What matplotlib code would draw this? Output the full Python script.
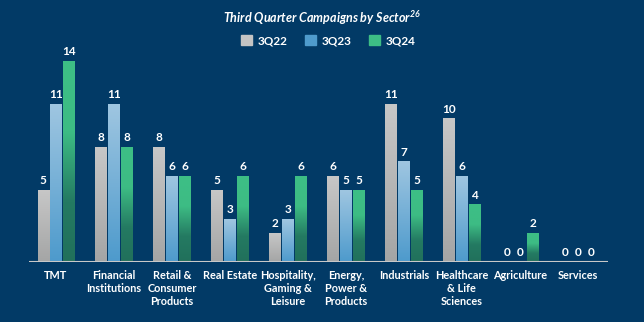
import numpy as np
import matplotlib
matplotlib.use("Agg")
import matplotlib.pyplot as plt
from matplotlib.colors import LinearSegmentedColormap
from matplotlib.patches import Rectangle

sectors = ["TMT", "Financial\nInstitutions", "Retail &\nConsumer\nProducts", "Real Estate",
           "Hospitality,\nGaming &\nLeisure", "Energy,\nPower &\nProducts", "Industrials",
           "Healthcare\n& Life\nSciences", "Agriculture", "Services"]
q22 = [5, 8, 8, 5, 2, 6, 11, 10, 0, 0]
q23 = [11, 11, 6, 3, 3, 5, 7, 6, 0, 0]
q24 = [14, 8, 6, 6, 6, 5, 5, 4, 2, 0]
series_names = ["3Q22", "3Q23", "3Q24"]

bg = "#023a66"
# (bottom, top) gradient stops per series
grads = [
    [(0.0, "#a4a5a5"), (1.0, "#c7c7c7")],
    [(0.0, "#4d9acc"), (1.0, "#9fc6e1")],
    [(0.0, "#21705b"), (0.3, "#247a62"), (0.65, "#3dbc84"), (1.0, "#3dbf86")],
]
legend_cols = ["#c4c4c4", "#4f9bcc", "#3dbd85"]

plt.rcParams['font.family'] = ['Lato', 'DejaVu Sans']
fig = plt.figure(figsize=(6.44, 3.22), dpi=100)
fig.patch.set_facecolor(bg)
ax = fig.add_axes([0.045, 0.186, 0.899, 0.658])
ax.set_facecolor(bg)

x = np.arange(len(sectors))
w = 0.19
step = 0.224
for i, vals in enumerate([q22, q23, q24]):
    cmap = LinearSegmentedColormap.from_list("g%d" % i, grads[i])
    grad = np.linspace(0, 1, 256).reshape(-1, 1)
    for xi, v in zip(x, vals):
        x0 = xi + (i - 1) * step - w / 2
        if v > 0:
            ax.imshow(grad, cmap=cmap, origin="lower", aspect="auto",
                      extent=[x0, x0 + w, 0, v], interpolation="bilinear", zorder=2)
        ax.text(x0 + w / 2, v + 0.3, str(v), ha="center", va="bottom",
                color="white", fontsize=8.5, fontweight="bold", zorder=3)

ax.set_xlim(-0.466, 9.52)
ax.set_ylim(0, 14.8)
ax.axhline(0, color="#c8c8c8", lw=1.5, zorder=4)
for s in ax.spines.values():
    s.set_visible(False)
ax.set_yticks([])
ax.set_xticks(x)
ax.set_xticklabels(sectors, color="white", fontsize=7.8, linespacing=1.2, va="top",
                   fontweight="bold")
ax.tick_params(axis="x", length=0, pad=6)

fig.text(0.5, 0.945, r"Third Quarter Campaigns by Sector$^{\mathregular{26}}$", ha="center", va="center",
         color="white", fontsize=9, fontweight="bold", style="italic")

handles = [Rectangle((0, 0), 1, 1, color=c) for c in legend_cols]
fig.legend(handles, series_names, loc="center", bbox_to_anchor=(0.51, 0.873), ncol=3,
           frameon=False, labelcolor="white", handlelength=0.9, handleheight=0.9,
           handletextpad=0.5, columnspacing=1.5, prop={"weight": "bold", "size": 8.5})

fig.savefig("out.png", dpi=100, facecolor=bg)
